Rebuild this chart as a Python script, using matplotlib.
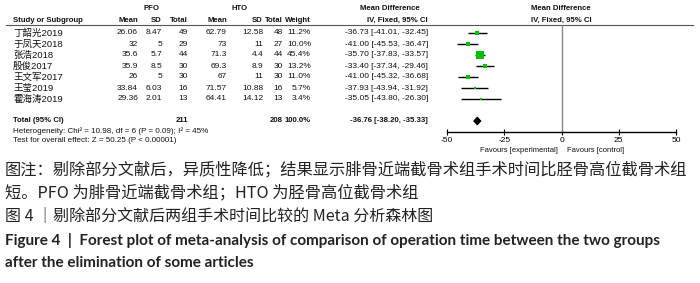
import numpy as np
import matplotlib
matplotlib.use("Agg")
import matplotlib.pyplot as plt
from matplotlib.patches import Polygon

# data
studies = ["丁韶光2019", "于凤天2018", "张浩2018", "殷俊2017", "王文军2017", "王莹2019", "霍海涛2019"]
pfo_mean = ["26.06", "32", "35.6", "35.9", "26", "33.84", "29.36"]
pfo_sd = ["8.47", "5", "5.7", "8.5", "5", "6.03", "2.01"]
pfo_n = [49, 29, 44, 30, 30, 16, 13]
hto_mean = ["62.79", "73", "71.3", "69.3", "67", "71.57", "64.41"]
hto_sd = ["12.58", "11", "4.4", "8.9", "11", "10.88", "14.12"]
hto_n = [48, 27, 44, 30, 30, 16, 13]
weight = [11.2, 10.0, 45.4, 13.2, 11.0, 5.7, 3.4]
md = [-36.73, -41.00, -35.70, -33.40, -41.00, -37.93, -35.05]
ci_lo = [-41.01, -45.53, -37.83, -37.34, -45.32, -43.94, -43.80]
ci_hi = [-32.45, -36.47, -33.57, -29.46, -36.68, -31.92, -26.30]
total_weight = 100.0
total_md, total_lo, total_hi = -36.76, -38.20, -35.33
xticks = [-50, -25, 0, 25, 50]

caption_cn = ["图注：剔除部分文献后，异质性降低；结果显示腓骨近端截骨术组手术时间比胫骨高位截骨术组",
              "短。PFO 为腓骨近端截骨术组；HTO 为胫骨高位截骨术组"]
title_cn = "图 4 ｜剔除部分文献后两组手术时间比较的 Meta 分析森林图"
title_en = ["Figure 4  |  Forest plot of meta-analysis of comparison of operation time between the two groups",
            "after the elimination of some articles"]

W, H = 700, 283
fig = plt.figure(figsize=(W / 100, H / 100), dpi=100)

# full-figure axes in pixel units for the table text
tab = fig.add_axes([0, 0, 1, 1])
tab.set_xlim(0, W)
tab.set_ylim(H, 0)
tab.axis("off")

tfont = ["Liberation Sans", "Noto Sans CJK SC"]
fs = 6
tc = "#111111"

def t(x, y, s, ha="right", bold=False, size=fs):
    tab.text(x, y, s, ha=ha, va="center", fontsize=size, color=tc, family=tfont,
             fontweight="bold" if bold else "normal")

row0, dy = 33, 11
total_y = row0 + dy * (len(studies) + 1)

# headers
hs = 5.6
t(152, 9, "PFO", ha="center", bold=True, size=hs)
t(240, 9, "HTO", ha="center", bold=True, size=hs)
t(390, 9, "Mean Difference", ha="center", bold=True, size=hs)
t(561, 9, "Mean Difference", ha="center", bold=True, size=hs)
hy = 20
t(13, hy, "Study or Subgroup", ha="left", bold=True, size=hs)
for x, s in [(138, "Mean"), (162, "SD"), (188, "Total"), (227, "Mean"), (263, "SD"),
             (283, "Total"), (311, "Weight"), (428, "IV, Fixed, 95% CI")]:
    t(x, hy, s, bold=True, size=hs)
t(561, hy, "IV, Fixed, 95% CI", ha="center", bold=True, size=hs)
tab.plot([6, 693], [25, 25], color="#555555", lw=0.8)

# study rows
for i, name in enumerate(studies):
    y = row0 + dy * i
    t(13, y, name, ha="left", size=6.8)
    t(138, y, pfo_mean[i])
    t(162, y, pfo_sd[i])
    t(188, y, str(pfo_n[i]))
    t(227, y, hto_mean[i])
    t(263, y, hto_sd[i])
    t(283, y, str(hto_n[i]))
    t(311, y, f"{weight[i]:.1f}%")
    t(428, y, f"{md[i]:.2f} [{ci_lo[i]:.2f}, {ci_hi[i]:.2f}]")

# total rows
t(13, total_y, "Total (95% CI)", ha="left", bold=True, size=hs)
t(188, total_y, str(sum(pfo_n)), bold=True, size=hs)
t(283, total_y, str(sum(hto_n)), bold=True, size=hs)
t(311, total_y, f"{total_weight:.1f}%", bold=True, size=hs)
t(428, total_y, f"{total_md:.2f} [{total_lo:.2f}, {total_hi:.2f}]", bold=True, size=hs)
t(13, total_y + 10, "Heterogeneity: Chi² = 10.98, df = 6 (P = 0.09); I² = 45%", ha="left", size=5.8)
t(13, total_y + 20, "Test for overall effect: Z = 50.25 (P < 0.00001)", ha="left", size=5.8)

# forest panel
x0, x1, ytop, ybot = 447, 676, 25, 132
ax = fig.add_axes([x0 / W, 1 - ybot / H, (x1 - x0) / W, (ybot - ytop) / H])
ax.set_xlim(-50, 50)
ax.set_ylim((ybot - row0) / dy, (ytop - row0) / dy)
ax.patch.set_alpha(0)
for side in ["top", "right", "left"]:
    ax.spines[side].set_visible(False)
ax.spines["bottom"].set_linewidth(1.0)
ax.set_yticks([])
ax.set_xticks(xticks)
ax.set_xticklabels([str(v) for v in xticks], family="Liberation Sans", fontsize=fs)
ax.tick_params(axis="x", direction="inout", length=5, width=0.8, pad=1)
ax.axvline(0, color="#888888", lw=1.0)

ys = np.arange(len(studies))
ax.hlines(ys, ci_lo, ci_hi, color="black", lw=1.0)
for y, m, w in zip(ys, md, weight):
    ax.plot(m, y, marker="s", color="#00c000", markersize=0.8 * np.sqrt(w), mew=0)

ty = len(studies) + 1
dh = 0.33
ax.add_patch(Polygon([[total_lo, ty], [total_md, ty - dh], [total_hi, ty], [total_md, ty + dh]],
                     closed=True, color="black"))

tab.text(558, 151, "Favours [experimental]", ha="right", va="center", fontsize=5.5, color=tc, family=tfont)
tab.text(567, 151, "Favours [control]", ha="left", va="center", fontsize=5.5, color=tc, family=tfont)

# captions
cfont = ["Noto Sans CJK SC", "DejaVu Sans"]
cc = "#222222"
tab.text(5, 170, caption_cn[0], ha="left", va="center", fontsize=11.7, color=cc, family=cfont)
tab.text(5, 193, caption_cn[1], ha="left", va="center", fontsize=11.7, color=cc, family=cfont)
tab.text(5, 216, title_cn, ha="left", va="center", fontsize=11.5, color=cc, family=cfont)
tab.text(5, 240, title_en[0], ha="left", va="center", fontsize=11, color=cc,
         family="Lato", fontweight="bold")
tab.text(5, 263, title_en[1], ha="left", va="center", fontsize=11, color=cc,
         family="Lato", fontweight="bold")

fig.savefig("out.png", dpi=100)
